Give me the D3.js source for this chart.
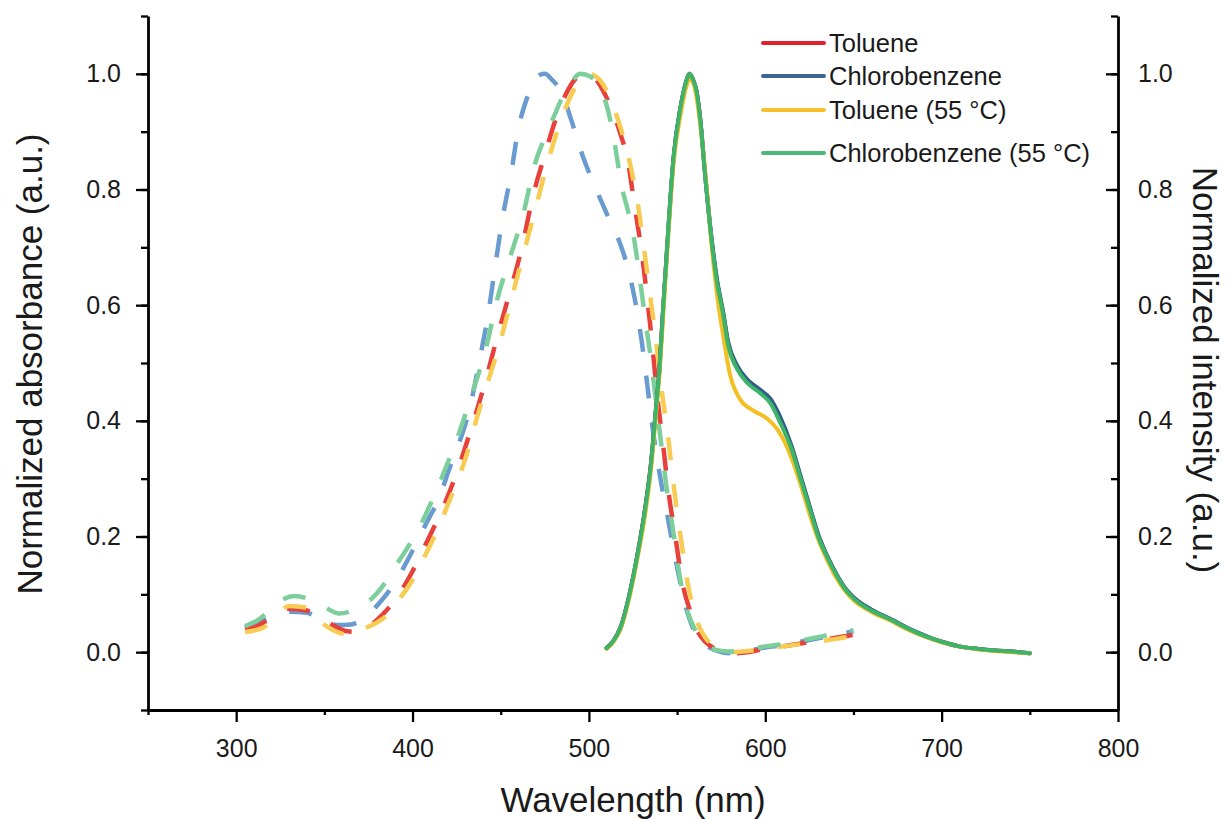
<!DOCTYPE html>
<html>
<head>
<meta charset="utf-8">
<script src="https://cdn.jsdelivr.net/npm/d3@7/dist/d3.min.js"></script>
<style>
  body { margin: 0; background: #fff; }
  text { font-family: "Liberation Sans", Arial, sans-serif; fill: #1a1a1a; }
</style>
</head>
<body>
<script>
// absorbance (dashed), [wavelength nm, normalized value]
const absToluene = [[305,0.04],[312,0.045],[320,0.06],[330,0.075],[340,0.072],[348,0.06],[356,0.045],[363,0.036],[369,0.035],[376,0.046],[383,0.065],[390,0.09],[400,0.14],[408,0.19],[414,0.228],[420,0.27],[425,0.31],[433,0.384],[441,0.465],[448,0.545],[454,0.61],[462,0.70],[468,0.785],[475,0.86],[481,0.92],[487,0.965],[492,0.99],[498,1.0],[504,0.99],[509,0.965],[514,0.93],[518,0.895],[522,0.85],[526,0.77],[530,0.69],[533.5,0.60],[536,0.53],[538.5,0.45],[542,0.36],[545,0.28],[549,0.2],[553,0.12],[557,0.075],[561,0.04],[566,0.018],[572,0.005],[580,-0.002],[590,0.0],[600,0.006],[610,0.01],[620,0.015],[630,0.02],[640,0.025],[650,0.03]];
const absChloro = [[305,0.042],[312,0.05],[320,0.06],[331,0.07],[340,0.068],[348,0.058],[357,0.047],[365,0.048],[373,0.06],[382,0.088],[391,0.125],[397,0.158],[403,0.194],[409,0.23],[415.6,0.27],[420,0.31],[425,0.35],[432.6,0.424],[438,0.505],[443,0.587],[447,0.67],[451,0.75],[456,0.83],[460,0.905],[464,0.95],[468,0.98],[472,0.998],[475,1.0],[479,0.99],[485,0.965],[490,0.92],[496.7,0.856],[502,0.815],[507,0.78],[512,0.745],[517.6,0.707],[522,0.665],[525,0.626],[529,0.557],[533,0.465],[536,0.39],[540,0.31],[545,0.228],[550,0.147],[556,0.067],[560,0.035],[565,0.015],[572,0.003],[580,-0.002],[590,0.002],[600,0.008],[610,0.012],[620,0.018],[630,0.024],[640,0.03],[650,0.036]];
const absToluene55 = [[305,0.035],[315,0.042],[322,0.06],[330,0.08],[340,0.077],[348,0.052],[355,0.038],[360,0.032],[366,0.03],[372,0.04],[379,0.05],[385.5,0.064],[392,0.09],[399,0.12],[405,0.155],[410,0.185],[416,0.225],[420,0.255],[426,0.3],[430,0.335],[436,0.4],[443,0.47],[450,0.54],[456,0.61],[463,0.69],[470,0.77],[476,0.84],[482,0.9],[488,0.95],[494,0.985],[500,1.0],[506,0.99],[511,0.965],[516,0.925],[520,0.885],[524,0.835],[528,0.77],[532,0.68],[535,0.61],[538,0.54],[541,0.46],[545,0.37],[548,0.29],[552,0.2],[556,0.12],[560,0.065],[565,0.03],[571,0.01],[580,0.0],[590,0.002],[600,0.006],[610,0.01],[620,0.014],[630,0.018],[640,0.023],[650,0.028]];
const absChloro55 = [[305,0.045],[312,0.055],[320,0.075],[327,0.092],[333,0.097],[340,0.093],[347,0.083],[353,0.073],[358,0.067],[364,0.07],[370,0.08],[377,0.093],[384,0.118],[390,0.147],[397,0.18],[404,0.216],[410,0.255],[415,0.29],[420,0.328],[425,0.367],[433,0.44],[442,0.53],[448,0.61],[455,0.68],[463,0.76],[469,0.84],[475,0.89],[480,0.925],[485,0.96],[490,0.985],[495,1.0],[501,0.995],[507,0.97],[511,0.935],[514,0.89],[519,0.80],[522,0.765],[525,0.725],[529,0.643],[532,0.574],[535,0.51],[538,0.435],[541,0.36],[544,0.285],[548,0.205],[551,0.14],[555,0.08],[560,0.04],[566,0.015],[572,0.004],[580,0.001],[590,0.004],[600,0.01],[610,0.014],[620,0.02],[630,0.026],[640,0.032],[650,0.038]];

// emission (solid)
const emChloro55 = [[510,0.007],[514,0.02],[518,0.043],[523,0.10],[528,0.176],[532,0.25],[535,0.32],[538,0.42],[540,0.49],[542,0.59],[545,0.73],[548,0.856],[552,0.943],[555,0.985],[557,1.0],[559,0.99],[561,0.97],[563,0.925],[566,0.82],[570,0.70],[572.6,0.64],[576,0.586],[579,0.53],[584,0.49],[590,0.465],[597,0.448],[603,0.43],[608,0.40],[615,0.35],[620,0.30],[625,0.25],[630,0.20],[635,0.165],[640,0.135],[645,0.11],[650,0.093],[660,0.072],[672,0.055],[680,0.042],[692,0.026],[700,0.018],[710,0.01],[720,0.006],[730,0.003],[740,0.001],[750,-0.002]];
const emToluene = [[510,0.007],[514,0.02],[518,0.044],[523,0.10],[528,0.177],[532,0.252],[535,0.322],[538,0.42],[540,0.49],[542,0.59],[545,0.73],[548,0.855],[552,0.943],[555,0.985],[557,1.0],[559,0.99],[561,0.97],[563,0.925],[566,0.822],[570,0.702],[572.6,0.642],[576,0.588],[579,0.533],[584,0.493],[590,0.468],[597,0.451],[603,0.434],[608,0.404],[615,0.352],[620,0.302],[625,0.252],[630,0.202],[635,0.166],[640,0.136],[645,0.111],[650,0.094],[660,0.073],[672,0.055],[680,0.042],[692,0.026],[700,0.018],[710,0.01],[720,0.006],[730,0.003],[740,0.001],[750,-0.002]];
const emChloro = [[510,0.007],[514,0.02],[518,0.043],[523,0.10],[528,0.176],[532,0.25],[535,0.32],[538,0.42],[540,0.49],[542,0.59],[545,0.73],[548,0.856],[552,0.943],[555,0.985],[557,1.0],[559,0.99],[561,0.97],[563,0.926],[566,0.823],[570,0.704],[572.6,0.645],[576,0.59],[579,0.536],[584,0.496],[590,0.471],[597,0.454],[603,0.438],[608,0.41],[615,0.356],[620,0.305],[625,0.254],[630,0.204],[635,0.167],[640,0.137],[645,0.112],[650,0.095],[660,0.074],[672,0.056],[680,0.043],[692,0.027],[700,0.018],[710,0.01],[720,0.006],[730,0.003],[740,0.001],[750,-0.002]];
const emToluene55 = [[510,0.006],[514,0.018],[518,0.04],[523,0.095],[528,0.17],[532,0.24],[535,0.31],[538,0.41],[540,0.48],[542,0.575],[545,0.72],[548,0.845],[552,0.93],[555,0.975],[557,0.99],[559,0.985],[561,0.96],[563,0.915],[566,0.83],[570,0.69],[573,0.61],[576,0.55],[580,0.48],[586,0.436],[593,0.418],[601,0.404],[607,0.385],[615,0.335],[620,0.29],[625,0.24],[630,0.195],[635,0.16],[640,0.13],[645,0.107],[650,0.09],[660,0.07],[672,0.053],[680,0.04],[692,0.025],[700,0.017],[710,0.01],[720,0.005],[730,0.002],[740,0.0],[750,-0.002]];

const seriesNames = ["Toluene", "Chlorobenzene", "Toluene (55 \u00B0C)", "Chlorobenzene (55 \u00B0C)"];
const xTicks = [300, 400, 500, 600, 700, 800];
const yTicks = [0, 0.2, 0.4, 0.6, 0.8, 1.0];

const solidColors = ["#d9262a", "#2f5d8c", "#f3bf22", "#3db467"];
const dashColors = ["#e8403a", "#6a9bd0", "#f8cb52", "#7ccf9b"];
const legendColors = ["#e0232a", "#3b6693", "#f5c02c", "#4cb87a"];

const absSets = [absToluene, absChloro, absToluene55, absChloro55];
const emSets = [emToluene, emChloro, emToluene55, emChloro55];

const W = 1227, H = 819;
const svg = d3.select("body").append("svg").attr("width", W).attr("height", H);

const x = d3.scaleLinear().domain([250, 800]).range([148, 1118]);
const y = d3.scaleLinear().domain([-0.1, 1.1]).range([710, 16]);

const line = d3.line()
  .x(d => x(d[0]))
  .y(d => y(d[1]))
  .curve(d3.curveMonotoneX);

// dashed absorbance
const drawOrder = [1, 0, 2, 3];
drawOrder.forEach(i => {
  svg.append("path")
    .attr("d", line(absSets[i]))
    .attr("fill", "none")
    .attr("stroke", dashColors[i])
    .attr("stroke-width", 4.5)
    .attr("stroke-dasharray", "23,24");
});

// solid emission
[0, 1, 2, 3].forEach(i => {
  svg.append("path")
    .attr("d", line(emSets[i]))
    .attr("fill", "none")
    .attr("stroke", solidColors[i])
    .attr("stroke-width", 4)
    .attr("stroke-linejoin", "round")
    .attr("stroke-linecap", "round");
});

// axes
const minorY = d3.range(-0.1, 1.11, 0.1).map(v => +v.toFixed(1));
const minorX = [250, 350, 450, 550, 650, 750];

function styleAxis(g) {
  g.selectAll("path.domain").attr("stroke", "#000").attr("stroke-width", 2.8);
  g.selectAll(".tick line").attr("stroke", "#000").attr("stroke-width", 2.3);
  g.selectAll(".tick text").style("font-size", "25px").attr("fill", "#222");
}

// bottom
const gx = svg.append("g").attr("transform", `translate(0,${y(-0.1)})`)
  .call(d3.axisBottom(x).tickValues(xTicks).tickSize(12).tickPadding(17).tickSizeOuter(0));
styleAxis(gx);
svg.append("g").attr("transform", `translate(0,${y(-0.1)})`)
  .call(d3.axisBottom(x).tickValues(minorX).tickSize(5).tickFormat("").tickSizeOuter(0))
  .call(g => { g.select(".domain").remove(); styleAxis(g); });

// left
const gy = svg.append("g").attr("transform", `translate(${x(250)},0)`)
  .call(d3.axisLeft(y).tickValues(yTicks).tickSize(12).tickPadding(15).tickSizeOuter(0).tickFormat(d3.format(".1f")));
styleAxis(gy);
svg.append("g").attr("transform", `translate(${x(250)},0)`)
  .call(d3.axisLeft(y).tickValues(minorY).tickSize(7).tickFormat("").tickSizeOuter(0))
  .call(g => { g.select(".domain").remove(); styleAxis(g); });

// right (ticks inward, labels outside)
const gr = svg.append("g").attr("transform", `translate(${x(800)},0)`)
  .call(d3.axisRight(y).tickValues(yTicks).tickSize(-12).tickPadding(20).tickSizeOuter(0).tickFormat(d3.format(".1f")));
styleAxis(gr);
gr.selectAll(".tick text").attr("x", 20);
svg.append("g").attr("transform", `translate(${x(800)},0)`)
  .call(d3.axisRight(y).tickValues(minorY).tickSize(-7).tickFormat("").tickSizeOuter(0))
  .call(g => { g.select(".domain").remove(); styleAxis(g); });

// axis titles
svg.append("text")
  .attr("transform", "translate(42,364) rotate(-90)")
  .attr("text-anchor", "middle")
  .style("font-size", "35px")
  .text("Normalized absorbance (a.u.)");

svg.append("text")
  .attr("transform", "translate(1193,370) rotate(90)")
  .attr("text-anchor", "middle")
  .style("font-size", "35px")
  .text("Normalized intensity (a.u.)");

svg.append("text")
  .attr("x", (x(250) + x(800)) / 2)
  .attr("y", 812)
  .attr("text-anchor", "middle")
  .style("font-size", "35px")
  .text("Wavelength (nm)");

// legend
const legendY = [43, 76, 110, 153];
const lg = svg.append("g");
seriesNames.forEach((name, i) => {
  lg.append("line")
    .attr("x1", 763).attr("x2", 824)
    .attr("y1", legendY[i]).attr("y2", legendY[i])
    .attr("stroke", legendColors[i])
    .attr("stroke-width", 4)
    .attr("stroke-linecap", "round");
  lg.append("text")
    .attr("x", 829)
    .attr("y", legendY[i] + 9)
    .style("font-size", "25.5px")
    .text(name);
});
</script>
</body>
</html>
